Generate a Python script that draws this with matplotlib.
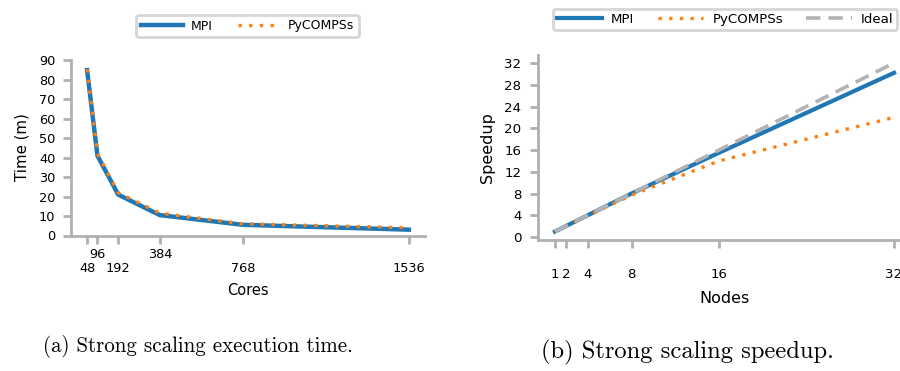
import matplotlib
matplotlib.use("Agg")
import matplotlib.pyplot as plt

# ---- data ----
cores = [48, 96, 192, 384, 768, 1536]
core_labels = ["\n48", "96", "\n192", "384", "\n768", "\n1536"]
time_mpi = [85, 41, 21, 10.5, 5.5, 3]
time_pycompss = [85.5, 42, 22, 11.5, 6, 4]

nodes = [1, 2, 4, 8, 16, 32]
node_labels = ["\n1", "\n2", "\n4", "\n8", "\n16", "\n32"]
speedup_mpi = [1, 2, 4, 8, 15.5, 30.2]
speedup_pycompss = [1, 2, 3.9, 7.7, 14, 22]
speedup_ideal = [1, 2, 4, 8, 16, 32]

time_ticks = list(range(0, 91, 10))
speed_ticks = list(range(0, 33, 4))

caption_a = "(a) Strong scaling execution time."
caption_b = "(b) Strong scaling speedup."

BLUE = "#1f77b4"
ORANGE = "#ff7f0e"
GREY = "#b3b3b3"
SPINE = "#b0b0b0"

plt.rcParams["font.family"] = ["DejaVu Sans"]

fig = plt.figure(figsize=(9, 3.71), dpi=100)
W, H = 900, 371


def add_ax(x0, x1, ytop, ybot):
    return fig.add_axes([x0 / W, (H - ybot) / H, (x1 - x0) / W, (ybot - ytop) / H])


def style(ax, fs, pad):
    for s in ["top", "right"]:
        ax.spines[s].set_visible(False)
    for s in ["left", "bottom"]:
        ax.spines[s].set_color(SPINE)
        ax.spines[s].set_linewidth(2)
    ax.tick_params(axis="both", colors=SPINE, width=2, length=6,
                   labelcolor="black", labelsize=fs)
    ax.tick_params(axis="y", pad=pad)


# ---- left: execution time ----
ax1 = add_ax(71, 425, 59.5, 235.5)
ax1.plot(cores, time_mpi, color=BLUE, lw=3.2, label="MPI")
ax1.plot(cores, time_pycompss, color=ORANGE, lw=2.4, ls=(0, (1, 2.2)), label="PyCOMPSs")
ax1.set_xlim(-26.4, 1610.4)
ax1.set_ylim(0, 90.5)
ax1.set_yticks(time_ticks)
ax1.set_xticks(cores)
ax1.set_xticklabels(core_labels, linespacing=1.15)
ax1.set_xlabel("Cores", fontsize=10.5, labelpad=5.5)
ax1.set_ylabel("Time (m)", fontsize=10.8, labelpad=7)
style(ax1, 9.3, 5.3)
ax1.tick_params(axis="x", pad=3)
leg1 = ax1.legend(ncol=2, loc="center", bbox_to_anchor=(247.5 / W, (H - 26) / H),
                  bbox_transform=fig.transFigure, fontsize=9, handlelength=3.36,
                  columnspacing=2.0, frameon=True, fancybox=True, borderpad=0.35,
                  handletextpad=0.65, borderaxespad=0)
leg1.get_frame().set_edgecolor("#cccccc")
leg1.get_frame().set_linewidth(2)

# ---- right: speedup ----
ax2 = add_ax(538, 911, 54.6, 240)
ax2.plot(nodes, speedup_mpi, color=BLUE, lw=3.0, label="MPI")
ax2.plot(nodes, speedup_pycompss, color=ORANGE, lw=2.4, ls=(0, (1, 2.2)), label="PyCOMPSs")
ax2.plot(nodes, speedup_ideal, color=GREY, lw=2.6, ls=(0, (4, 2.2)), label="Ideal")
ax2.set_xlim(-0.55, 33.55)
ax2.set_ylim(-0.55, 33.55)
ax2.set_yticks(speed_ticks)
ax2.set_xticks(nodes)
ax2.set_xticklabels(node_labels, linespacing=1.2)
ax2.set_xlabel("Nodes", fontsize=11.5, labelpad=7)
ax2.set_ylabel("Speedup", fontsize=11.5, labelpad=6.5)
style(ax2, 9.6, 6)
leg2 = ax2.legend(ncol=3, loc="center", bbox_to_anchor=(725 / W, (H - 19.5) / H),
                  bbox_transform=fig.transFigure, fontsize=9.6, handlelength=3.4,
                  columnspacing=1.75, frameon=True, fancybox=True, borderpad=0.3,
                  handletextpad=0.68, borderaxespad=0)
leg2.get_frame().set_edgecolor("#cccccc")
leg2.get_frame().set_linewidth(2)

# ---- captions (font size fitted to the reference widths) ----
renderer = fig.canvas.get_renderer()


def caption(x0, x1, yc, s):
    t = fig.text(x0 / W, (H - yc) / H, s, family="cmr10", fontsize=14,
                 ha="left", va="center")
    w = t.get_window_extent(renderer).width
    t.set_fontsize(14 * (x1 - x0) / w)
    return t


caption(43, 352, 347, caption_a)
caption(541, 833, 352, caption_b)

fig.savefig("out.png", dpi=100)
